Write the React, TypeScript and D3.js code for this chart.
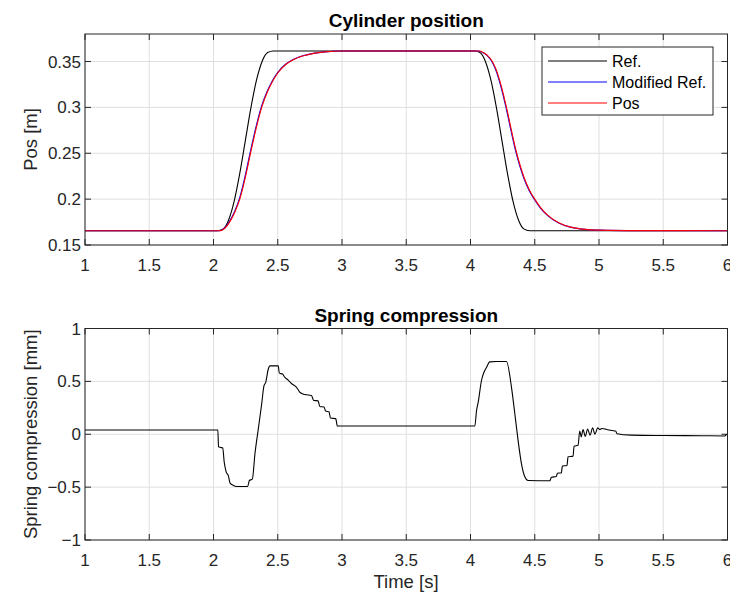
import React, { useEffect, useRef } from "react";
import * as d3 from "d3";

// Cylinder position (top)
const refT = [1, 2.03, 2.0735, 2.117, 2.1605, 2.204, 2.2475, 2.291, 2.3345, 2.378, 2.4215, 2.465, 4.03, 4.073, 4.116, 4.159, 4.202, 4.245, 4.288, 4.331, 4.374, 4.417, 4.46, 6];
const refV = [0.1656, 0.1656, 0.1673, 0.177, 0.1975, 0.2277, 0.2636, 0.2994, 0.3296, 0.3501, 0.3598, 0.3615, 0.3615, 0.3598, 0.3501, 0.3296, 0.2994, 0.2636, 0.2277, 0.1975, 0.177, 0.1673, 0.1656, 0.1656];

const modT = [1, 2.046, 2.086, 2.126, 2.166, 2.203, 2.241, 2.281, 2.326, 2.371, 2.416, 2.456, 2.496, 2.556, 2.616, 2.696, 2.776, 2.866, 2.996, 4.066, 4.086, 4.126, 4.166, 4.196, 4.236, 4.276, 4.316, 4.352, 4.386, 4.416, 4.456, 4.496, 4.546, 4.596, 4.686, 4.776, 4.866, 4.996, 5.296, 6];
const modV = [0.1656, 0.1656, 0.1685, 0.176, 0.187, 0.201, 0.222, 0.248, 0.276, 0.3, 0.317, 0.3285, 0.3375, 0.3465, 0.352, 0.3563, 0.3589, 0.3605, 0.3615, 0.3615, 0.3605, 0.357, 0.35, 0.341, 0.323, 0.3, 0.274, 0.252, 0.235, 0.2225, 0.2095, 0.2, 0.19, 0.1825, 0.174, 0.1695, 0.1673, 0.1662, 0.1657, 0.1656];

const posT = [1, 2.05, 2.09, 2.13, 2.17, 2.207, 2.245, 2.285, 2.33, 2.375, 2.42, 2.46, 2.5, 2.56, 2.62, 2.7, 2.78, 2.87, 3.0, 4.07, 4.09, 4.13, 4.17, 4.2, 4.24, 4.28, 4.32, 4.356, 4.39, 4.42, 4.46, 4.5, 4.55, 4.6, 4.69, 4.78, 4.87, 5.0, 5.3, 6];
const posV = [0.1656, 0.1656, 0.1685, 0.176, 0.187, 0.201, 0.222, 0.248, 0.276, 0.3, 0.317, 0.3285, 0.3375, 0.3465, 0.352, 0.3563, 0.3589, 0.3605, 0.3615, 0.3615, 0.3605, 0.357, 0.35, 0.341, 0.323, 0.3, 0.274, 0.252, 0.235, 0.2225, 0.2095, 0.2, 0.19, 0.1825, 0.174, 0.1695, 0.1673, 0.1662, 0.1657, 0.1656];

// Spring compression (bottom)
const springT = [1, 2.034, 2.039, 2.057, 2.072, 2.083, 2.098, 2.116, 2.129, 2.155, 2.18, 2.266, 2.279, 2.302, 2.323, 2.349, 2.375, 2.393, 2.406, 2.426, 2.439, 2.504, 2.512, 2.537, 2.556, 2.581, 2.607, 2.646, 2.672, 2.711, 2.762, 2.78, 2.814, 2.827, 2.86, 2.873, 2.899, 2.91, 2.951, 2.964, 4.034, 4.047, 4.06, 4.085, 4.104, 4.124, 4.15, 4.2, 4.28, 4.319, 4.345, 4.37, 4.396, 4.422, 4.448, 4.617, 4.63, 4.668, 4.676, 4.707, 4.715, 4.751, 4.759, 4.798, 4.806, 4.837, 4.85, 4.862, 4.876, 4.893, 4.912, 4.93, 4.951, 4.968, 4.99, 5.005, 5.024, 5.06, 5.1, 5.13, 5.14, 5.25, 5.5, 5.8, 5.98, 5.99, 6];
const springV = [0.04, 0.04, -0.119, -0.125, -0.13, -0.26, -0.353, -0.394, -0.4625, -0.484, -0.494, -0.494, -0.4375, -0.425, -0.18, 0.053, 0.2875, 0.46, 0.49, 0.615, 0.647, 0.647, 0.578, 0.569, 0.5375, 0.5125, 0.48, 0.444, 0.397, 0.375, 0.366, 0.319, 0.316, 0.2625, 0.258, 0.219, 0.212, 0.153, 0.148, 0.078, 0.078, 0.225, 0.303, 0.506, 0.584, 0.631, 0.684, 0.688, 0.6875, 0.444, 0.194, -0.056, -0.275, -0.4, -0.4375, -0.44, -0.406, -0.4, -0.369, -0.365, -0.3, -0.295, -0.2125, -0.207, -0.1125, -0.105, 0.031, -0.025, 0.045, -0.02, 0.05, -0.01, 0.06, 0.0, 0.06, 0.045, 0.055, 0.045, 0.035, 0.03, 0.005, -0.008, -0.012, -0.014, -0.016, -0.005, -0.005];

const xTicks = [1, 1.5, 2, 2.5, 3, 3.5, 4, 4.5, 5, 5.5, 6];
const posTicks = [0.15, 0.2, 0.25, 0.3, 0.35];
const springTicks = [-1, -0.5, 0, 0.5, 1];
const legendNames = ["Ref.", "Modified Ref.", "Pos"];
const legendColors = ["#000000", "#0000ff", "#ff0000"];

const W = 730;
const H = 594;
const FONT = "Arial, 'Liberation Sans', Helvetica, sans-serif";
const AX = "#262626";

function drawAxes(g: any, x: any, y: any, yTicks: number[], title: string, ylabel: string) {
  const [x0, x1] = x.range();
  const [y0, y1] = y.range();
  const fmt = d3.format("~g");

  // grid
  g.selectAll(".gx").data(xTicks).enter().append("line")
    .attr("x1", (d: number) => x(d)).attr("x2", (d: number) => x(d))
    .attr("y1", y0).attr("y2", y1)
    .attr("stroke", "#dfdfdf").attr("stroke-width", 1);
  g.selectAll(".gy").data(yTicks).enter().append("line")
    .attr("x1", x0).attr("x2", x1)
    .attr("y1", (d: number) => y(d)).attr("y2", (d: number) => y(d))
    .attr("stroke", "#dfdfdf").attr("stroke-width", 1);

  // ticks (inside, all four sides)
  const tl = 6;
  xTicks.forEach((d) => {
    g.append("line").attr("x1", x(d)).attr("x2", x(d)).attr("y1", y0).attr("y2", y0 - tl).attr("stroke", AX);
    g.append("line").attr("x1", x(d)).attr("x2", x(d)).attr("y1", y1).attr("y2", y1 + tl).attr("stroke", AX);
  });
  yTicks.forEach((d) => {
    g.append("line").attr("x1", x0).attr("x2", x0 + tl).attr("y1", y(d)).attr("y2", y(d)).attr("stroke", AX);
    g.append("line").attr("x1", x1).attr("x2", x1 - tl).attr("y1", y(d)).attr("y2", y(d)).attr("stroke", AX);
  });

  // tick labels
  g.selectAll(".xl").data(xTicks).enter().append("text")
    .attr("x", (d: number) => x(d)).attr("y", y0 + 26)
    .attr("text-anchor", "middle").attr("font-size", 17).attr("fill", AX)
    .attr("font-family", FONT).text((d: number) => fmt(d));
  g.selectAll(".yl").data(yTicks).enter().append("text")
    .attr("x", x0 - 4).attr("y", (d: number) => y(d) + 6)
    .attr("text-anchor", "end").attr("font-size", 17).attr("fill", AX)
    .attr("font-family", FONT).text((d: number) => fmt(d));

  // title
  g.append("text").attr("x", (x0 + x1) / 2).attr("y", y1 - 7)
    .attr("text-anchor", "middle").attr("font-size", 19).attr("font-weight", "bold")
    .attr("fill", "#000").attr("font-family", FONT).text(title);

  // y label
  g.append("text")
    .attr("transform", `translate(37,${(y0 + y1) / 2}) rotate(-90)`)
    .attr("text-anchor", "middle").attr("font-size", 18.5).attr("fill", AX)
    .attr("font-family", FONT).text(ylabel);
}

function drawBox(g: any, x: any, y: any) {
  const [x0, x1] = x.range();
  const [y0, y1] = y.range();
  g.append("rect").attr("x", x0).attr("y", y1).attr("width", x1 - x0).attr("height", y0 - y1)
    .attr("fill", "none").attr("stroke", AX).attr("stroke-width", 1);
}

export default function App() {
  const svgRef = useRef<SVGSVGElement | null>(null);

  useEffect(() => {
    const svg = d3.select(svgRef.current);
    svg.selectAll("*").remove();

    const x = d3.scaleLinear().domain([1, 6]).range([85, 727.5]);

    // top panel
    const y1 = d3.scaleLinear().domain([0.15, 0.38]).range([245, 34]);
    const top = svg.append("g");
    drawAxes(top, x, y1, posTicks, "Cylinder position", "Pos [m]");

    const series = [
      { t: refT, v: refV, c: legendColors[0] },
      { t: modT, v: modV, c: legendColors[1] },
      { t: posT, v: posV, c: legendColors[2] },
    ];
    series.forEach((s) => {
      const pts = s.t.map((t, i) => [x(t), y1(s.v[i])] as [number, number]);
      top.append("path").attr("d", d3.line().curve(d3.curveMonotoneX)(pts))
        .attr("fill", "none").attr("stroke", s.c).attr("stroke-width", 1.1);
    });
    drawBox(top, x, y1);

    // legend
    const lg = top.append("g");
    lg.append("rect").attr("x", 542).attr("y", 47).attr("width", 171).attr("height", 68)
      .attr("fill", "#fff").attr("stroke", AX).attr("stroke-width", 1);
    legendNames.forEach((n, i) => {
      const yy = 61 + i * 21;
      lg.append("line").attr("x1", 548).attr("x2", 607).attr("y1", yy).attr("y2", yy)
        .attr("stroke", legendColors[i]).attr("stroke-width", 1.1);
      lg.append("text").attr("x", 612).attr("y", yy + 6).attr("font-size", 16)
        .attr("fill", "#000").attr("font-family", FONT).text(n);
    });

    // bottom panel
    const y2 = d3.scaleLinear().domain([-1, 1]).range([540, 328.5]);
    const bot = svg.append("g");
    drawAxes(bot, x, y2, springTicks, "Spring compression", "Spring compression [mm]");
    const spts = springT.map((t, i) => [x(t), y2(springV[i])] as [number, number]);
    bot.append("path").attr("d", d3.line().curve(d3.curveMonotoneX)(spts))
      .attr("fill", "none").attr("stroke", "#000").attr("stroke-width", 1.1);
    drawBox(bot, x, y2);

    bot.append("text").attr("x", 406).attr("y", 588).attr("text-anchor", "middle")
      .attr("font-size", 18.5).attr("fill", AX).attr("font-family", FONT).text("Time [s]");
  }, []);

  return (
    <svg
      ref={svgRef}
      width={W}
      height={H}
      style={{ position: "absolute", left: 0, top: 0, background: "#fff" }}
    />
  );
}
